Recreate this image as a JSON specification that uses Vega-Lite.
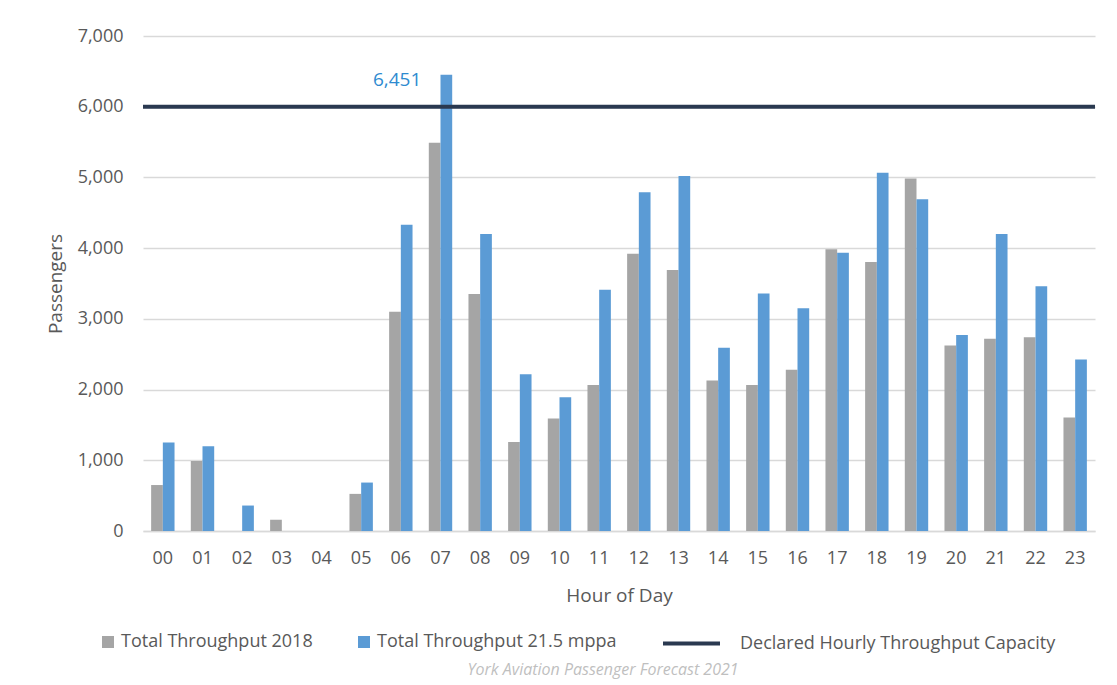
{
  "$schema": "https://vega.github.io/schema/vega-lite/v6.json",
  "width": 952,
  "height": 495,
  "autosize": {"type": "none"},
  "padding": {"left": 143, "top": 36, "right": 22, "bottom": 154},
  "background": "white",
  "config": {
    "font": "Open Sans",
    "view": {"stroke": null},
    "legend": {"labelFontSize": 18, "labelColor": "#595959", "labelFont": "Open Sans", "labelLimit": 500}
  },
  "title": {
    "text": "York Aviation Passenger Forecast 2021",
    "orient": "bottom",
    "anchor": "middle",
    "fontStyle": "italic",
    "fontWeight": "normal",
    "fontSize": 16,
    "color": "#BFBFBF",
    "offset": 9,
    "dx": -16
  },
  "datasets": {
    "bars": [
      {"hour": "00", "series": "Total Throughput 2018", "value": 650},
      {"hour": "00", "series": "Total Throughput 21.5 mppa", "value": 1250},
      {"hour": "01", "series": "Total Throughput 2018", "value": 990},
      {"hour": "01", "series": "Total Throughput 21.5 mppa", "value": 1200},
      {"hour": "02", "series": "Total Throughput 2018", "value": 0},
      {"hour": "02", "series": "Total Throughput 21.5 mppa", "value": 360},
      {"hour": "03", "series": "Total Throughput 2018", "value": 160},
      {"hour": "03", "series": "Total Throughput 21.5 mppa", "value": 0},
      {"hour": "04", "series": "Total Throughput 2018", "value": 0},
      {"hour": "04", "series": "Total Throughput 21.5 mppa", "value": 0},
      {"hour": "05", "series": "Total Throughput 2018", "value": 525},
      {"hour": "05", "series": "Total Throughput 21.5 mppa", "value": 685},
      {"hour": "06", "series": "Total Throughput 2018", "value": 3100},
      {"hour": "06", "series": "Total Throughput 21.5 mppa", "value": 4330},
      {"hour": "07", "series": "Total Throughput 2018", "value": 5490},
      {"hour": "07", "series": "Total Throughput 21.5 mppa", "value": 6451},
      {"hour": "08", "series": "Total Throughput 2018", "value": 3350},
      {"hour": "08", "series": "Total Throughput 21.5 mppa", "value": 4200},
      {"hour": "09", "series": "Total Throughput 2018", "value": 1260},
      {"hour": "09", "series": "Total Throughput 21.5 mppa", "value": 2215},
      {"hour": "10", "series": "Total Throughput 2018", "value": 1590},
      {"hour": "10", "series": "Total Throughput 21.5 mppa", "value": 1890},
      {"hour": "11", "series": "Total Throughput 2018", "value": 2065},
      {"hour": "11", "series": "Total Throughput 21.5 mppa", "value": 3410},
      {"hour": "12", "series": "Total Throughput 2018", "value": 3920},
      {"hour": "12", "series": "Total Throughput 21.5 mppa", "value": 4790},
      {"hour": "13", "series": "Total Throughput 2018", "value": 3690},
      {"hour": "13", "series": "Total Throughput 21.5 mppa", "value": 5020},
      {"hour": "14", "series": "Total Throughput 2018", "value": 2130},
      {"hour": "14", "series": "Total Throughput 21.5 mppa", "value": 2590},
      {"hour": "15", "series": "Total Throughput 2018", "value": 2065},
      {"hour": "15", "series": "Total Throughput 21.5 mppa", "value": 3360},
      {"hour": "16", "series": "Total Throughput 2018", "value": 2280},
      {"hour": "16", "series": "Total Throughput 21.5 mppa", "value": 3150},
      {"hour": "17", "series": "Total Throughput 2018", "value": 3985},
      {"hour": "17", "series": "Total Throughput 21.5 mppa", "value": 3935},
      {"hour": "18", "series": "Total Throughput 2018", "value": 3805},
      {"hour": "18", "series": "Total Throughput 21.5 mppa", "value": 5065},
      {"hour": "19", "series": "Total Throughput 2018", "value": 4985},
      {"hour": "19", "series": "Total Throughput 21.5 mppa", "value": 4690},
      {"hour": "20", "series": "Total Throughput 2018", "value": 2625},
      {"hour": "20", "series": "Total Throughput 21.5 mppa", "value": 2770},
      {"hour": "21", "series": "Total Throughput 2018", "value": 2720},
      {"hour": "21", "series": "Total Throughput 21.5 mppa", "value": 4200},
      {"hour": "22", "series": "Total Throughput 2018", "value": 2740},
      {"hour": "22", "series": "Total Throughput 21.5 mppa", "value": 3460},
      {"hour": "23", "series": "Total Throughput 2018", "value": 1605},
      {"hour": "23", "series": "Total Throughput 21.5 mppa", "value": 2425}
    ],
    "cap": [
      {"series": "Declared Hourly Throughput Capacity", "capacity": 6000}
    ]
  },
  "layer": [
    {
      "data": {"name": "bars"},
      "mark": {"type": "bar"},
      "encoding": {
        "x": {
          "field": "hour",
          "type": "nominal",
          "scale": {"paddingInner": 0.41, "paddingOuter": 0.205},
          "axis": {
            "title": "Hour of Day",
            "labelAngle": 0,
            "labelFontSize": 18,
            "labelColor": "#595959",
            "labelPadding": 18,
            "ticks": false,
            "domainColor": "#D9D9D9",
            "domainWidth": 1.3,
            "titleFontSize": 19,
            "titleFontWeight": "normal",
            "titleColor": "#595959",
            "titlePadding": 19
          }
        },
        "xOffset": {"field": "series", "type": "nominal", "scale": {"paddingInner": 0, "paddingOuter": 0}},
        "y": {
          "field": "value",
          "type": "quantitative",
          "scale": {"domain": [0, 7000]},
          "axis": {
            "title": "Passengers",
            "format": ",.0f",
            "tickCount": 7,
            "labelFontSize": 18,
            "labelColor": "#595959",
            "labelPadding": 20,
            "ticks": false,
            "domain": false,
            "gridColor": "#D9D9D9",
            "gridWidth": 1.3,
            "titleFontSize": 19,
            "titleFontWeight": "normal",
            "titleColor": "#595959",
            "titlePadding": 12
          }
        },
        "fill": {
          "field": "series",
          "type": "nominal",
          "scale": {"domain": ["Total Throughput 2018", "Total Throughput 21.5 mppa"], "range": ["#A5A5A5", "#5B9BD5"]},
          "legend": {
            "title": null,
            "orient": "none",
            "direction": "horizontal",
            "legendX": -44,
            "legendY": 597,
            "symbolType": "square",
            "symbolSize": 144,
            "symbolStrokeWidth": 0,
            "labelOffset": 4,
            "columnPadding": 42
          }
        }
      }
    },
    {
      "data": {"name": "cap"},
      "mark": {"type": "rule", "strokeWidth": 4},
      "encoding": {
        "y": {"field": "capacity", "type": "quantitative"},
        "stroke": {
          "field": "series",
          "type": "nominal",
          "scale": {"range": ["#2A3950"]},
          "legend": {
            "title": null,
            "orient": "none",
            "direction": "horizontal",
            "legendX": 518,
            "legendY": 577,
            "symbolType": "stroke",
            "symbolSize": 3249,
            "symbolStrokeWidth": 4,
            "labelOffset": 18
          }
        }
      }
    },
    {
      "data": {"name": "bars"},
      "transform": [{"filter": "datum.hour === '07' && datum.series === 'Total Throughput 21.5 mppa'"}],
      "mark": {"type": "text", "align": "right", "baseline": "middle", "dx": -25, "dy": 5, "fontSize": 19, "color": "#2E8BD0"},
      "encoding": {
        "x": {"field": "hour", "type": "nominal"},
        "xOffset": {"field": "series", "type": "nominal"},
        "y": {"field": "value", "type": "quantitative"},
        "text": {"field": "value", "type": "quantitative", "format": ","}
      }
    }
  ]
}
